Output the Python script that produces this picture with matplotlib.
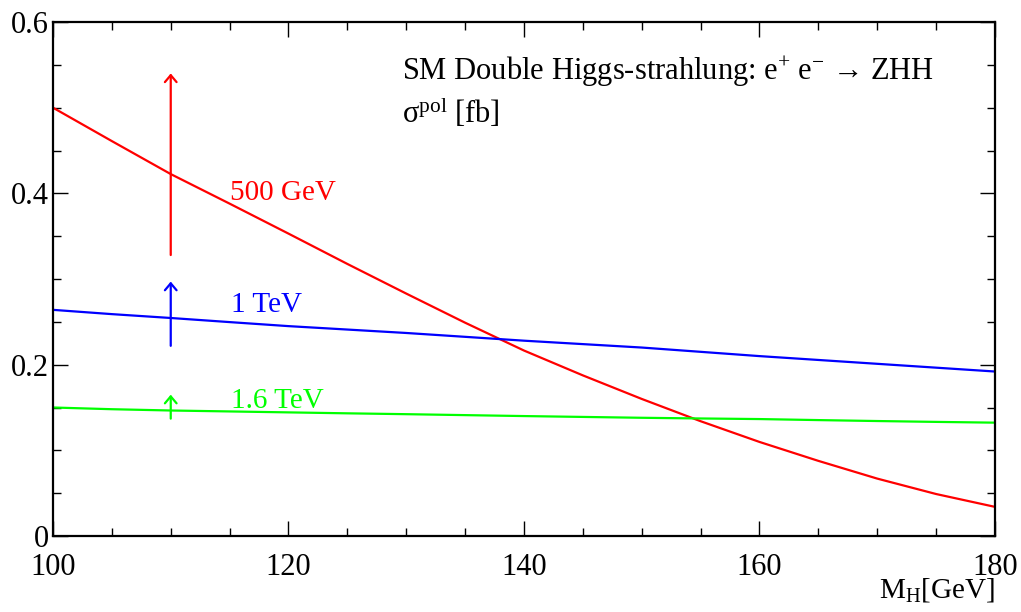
import numpy as np
import matplotlib
matplotlib.use('Agg')
import matplotlib.pyplot as plt
from matplotlib.ticker import MultipleLocator

plt.rcParams['font.family'] = ['Liberation Serif', 'DejaVu Serif']
plt.rcParams['mathtext.fontset'] = 'custom'
plt.rcParams['mathtext.rm'] = 'Liberation Serif'
plt.rcParams['mathtext.it'] = 'Liberation Serif:italic'
plt.rcParams['mathtext.default'] = 'regular'

# Higgs mass [GeV]
mh = [100, 105, 110, 115, 120, 125, 130, 135, 140, 145, 150, 155, 160, 165, 170, 175, 180]

# polarised cross sections [fb]
xs_500 = [0.500, 0.461, 0.4225, 0.388, 0.353, 0.3176, 0.283, 0.249, 0.2165, 0.1875,
          0.160, 0.134, 0.1098, 0.0877, 0.067, 0.049, 0.034]
xs_1000 = [0.264, 0.259, 0.2545, 0.2497, 0.245, 0.241, 0.237, 0.2325, 0.228, 0.224,
           0.220, 0.215, 0.210, 0.2055, 0.201, 0.1965, 0.192]
xs_1600 = [0.150, 0.148, 0.1465, 0.1454, 0.1443, 0.1432, 0.1422, 0.1411, 0.140, 0.139,
           0.138, 0.1372, 0.1365, 0.1353, 0.1342, 0.1332, 0.1323]

# arrows at M_H = 110 (start, end)
arrow_x = 110
arr_500 = (0.328, 0.540)
arr_1000 = (0.222, 0.297)
arr_1600 = (0.137, 0.165)

labels = ['500 GeV', '1 TeV', '1.6 TeV']
colors = ['#ff0000', '#0000ff', '#00ff00']

fig = plt.figure(figsize=(10.21, 6.12), dpi=100)
ax = fig.add_axes([0.0519, 0.1242, 0.9226, 0.8398])

for ys, col in zip([xs_500, xs_1000, xs_1600], colors):
    ax.plot(mh, ys, color=col, lw=1.6)

for (y0, y1), col in zip([arr_500, arr_1000, arr_1600], colors):
    ax.annotate('', xy=(arrow_x, y1), xytext=(arrow_x, y0),
                arrowprops=dict(arrowstyle='->,head_length=0.5,head_width=0.42',
                                color=col, lw=1.6, shrinkA=0, shrinkB=0))

# labels next to curves
ax.text(115.0, 0.392, labels[0], color=colors[0], fontsize=21)
ax.text(115.1, 0.261, labels[1], color=colors[1], fontsize=21)
ax.text(115.1, 0.150, labels[2], color=colors[2], fontsize=21)

ax.text(129.6, 0.532, r'SM Double Higgs-strahlung: e$^{+}$ e$^{-}$ → ZHH', fontsize=22)
ax.text(129.6, 0.482, r'σ$^{pol}$ [fb]', fontsize=22)

ax.set_xlim(100, 180)
ax.set_ylim(0, 0.6)
ax.xaxis.set_major_locator(MultipleLocator(20))
ax.xaxis.set_minor_locator(MultipleLocator(5))
ax.yaxis.set_major_locator(MultipleLocator(0.2))
ax.yaxis.set_minor_locator(MultipleLocator(0.05))
ax.xaxis.set_major_formatter(plt.FuncFormatter(lambda v, p: f'{v:.0f}'))
ax.yaxis.set_major_formatter(plt.FuncFormatter(lambda v, p: '0' if v == 0 else f'{v:.1f}'))

ax.tick_params(which='both', direction='in', top=True, right=True, labelsize=22, width=1.0)
ax.tick_params(which='major', length=11)
ax.tick_params(which='minor', length=6)
ax.tick_params(axis='x', pad=12)
ax.tick_params(axis='y', pad=3)
for s in ax.spines.values():
    s.set_linewidth(1.6)

fig.text(995 / 1021, 1 - 598 / 612, r'M$_{H}$[GeV]', fontsize=21, ha='right', va='baseline')

plt.savefig('out.png', dpi=100)
